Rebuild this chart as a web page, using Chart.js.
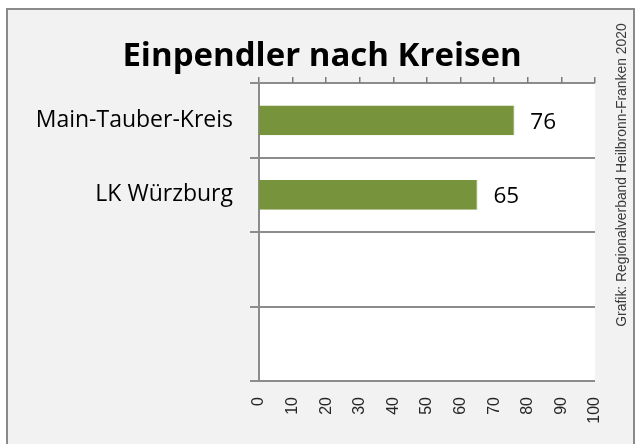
<!DOCTYPE html>
<html>
<head>
<meta charset="utf-8">
<script src="https://cdn.jsdelivr.net/npm/chart.js@4"></script>
<style>
  html, body { margin: 0; padding: 0; background: #ffffff; width: 638px; height: 444px; overflow: hidden; }
  #frame { position: absolute; left: 6px; top: 8px; width: 629px; height: 445px; background: #f2f2f2; border: 2px solid #8a8a8a; box-sizing: border-box; }
  #c { position: absolute; left: 0; top: 0; }
</style>
</head>
<body>
<div id="frame"></div>
<canvas id="c" width="638" height="444"></canvas>
<script>
const categories = ["Main-Tauber-Kreis", "LK Würzburg", "", ""];
const values = [76, 65, null, null];
const titleText = "Einpendler nach Kreisen";
const creditText = "Grafik: Regionalverband Heilbronn-Franken 2020";
const axisMin = 0, axisMax = 100, axisStep = 10;

const plotBackground = {
  id: 'plotBackground',
  beforeDraw(chart) {
    const { ctx, chartArea: a } = chart;
    ctx.save();
    ctx.fillStyle = '#ffffff';
    ctx.fillRect(a.left, a.top, a.right - a.left, a.bottom - a.top);
    ctx.restore();
  }
};

const valueLabels = {
  id: 'valueLabels',
  afterDatasetsDraw(chart) {
    const { ctx } = chart;
    const meta = chart.getDatasetMeta(0);
    ctx.save();
    ctx.font = '22.5px "Open Sans"';
    ctx.fillStyle = '#000000';
    ctx.textAlign = 'left';
    ctx.textBaseline = 'middle';
    meta.data.forEach((el, i) => {
      const v = values[i];
      if (v === null || v === undefined) return;
      ctx.fillText(String(v), el.x + 16, el.y + 2);
    });
    ctx.restore();
  }
};

const credit = {
  id: 'credit',
  afterDraw(chart) {
    const { ctx } = chart;
    ctx.save();
    ctx.translate(622, 175);
    ctx.rotate(-Math.PI / 2);
    ctx.font = '13.9px "Liberation Sans"';
    ctx.fillStyle = '#3a3a3a';
    ctx.textAlign = 'center';
    ctx.textBaseline = 'middle';
    ctx.fillText(creditText, 0, 0);
    ctx.restore();
  }
};

new Chart(document.getElementById('c'), {
  type: 'bar',
  data: {
    labels: categories,
    datasets: [{
      data: values,
      backgroundColor: '#77933c',
      borderColor: '#86a44a',
      borderWidth: { right: 1 },
      borderSkipped: 'left',
      categoryPercentage: 1.0,
      barPercentage: 0.4,
      xAxisID: 'x',
      yAxisID: 'y'
    }]
  },
  options: {
    indexAxis: 'y',
    responsive: false,
    animation: false,
    events: [],
    layout: { padding: { left: 10, right: 4, top: 9, bottom: 0 } },
    plugins: {
      legend: { display: false },
      tooltip: { enabled: false },
      title: {
        display: true,
        text: titleText,
        color: '#000000',
        font: { family: 'Open Sans', size: 33, weight: 'bold', lineHeight: 1.2 },
        padding: { top: 28, bottom: 0.5 }
      }
    },
    scales: {
      y: {
        type: 'category',
        position: 'left',
        offset: true,
        grid: { offset: true, color: '#8c8c8c', lineWidth: 2, tickLength: 9, drawTicks: true },
        border: { display: true, color: '#8c8c8c', width: 2 },
        ticks: { color: '#000000', font: { family: 'Open Sans', size: 23 }, padding: 17 },
        afterFit(s) { s.width = 249; }
      },
      y2: {
        type: 'category',
        position: 'right',
        grid: { display: false, drawTicks: false },
        border: { display: false },
        ticks: { display: false },
        afterFit(s) { s.width = 39; }
      },
      x: {
        type: 'linear',
        position: 'bottom',
        min: axisMin, max: axisMax,
        grid: { display: false, drawTicks: true, tickLength: 8 },
        border: { display: false },
        ticks: {
          stepSize: axisStep,
          minRotation: 90, maxRotation: 90,
          color: '#262626',
          font: { family: 'Liberation Sans', size: 16 },
          padding: 8
        },
        afterFit(s) { s.height = 63; }
      },
      x2: {
        type: 'linear',
        position: 'top',
        min: axisMin, max: axisMax,
        grid: { display: true, drawOnChartArea: false, drawTicks: true, tickLength: 6, color: '#7a7a7a', lineWidth: 1.5 },
        border: { display: false },
        ticks: { display: false, stepSize: axisStep },
        afterFit(s) { s.height = 6; }
      }
    }
  },
  plugins: [plotBackground, valueLabels, credit]
});
</script>
</body>
</html>
